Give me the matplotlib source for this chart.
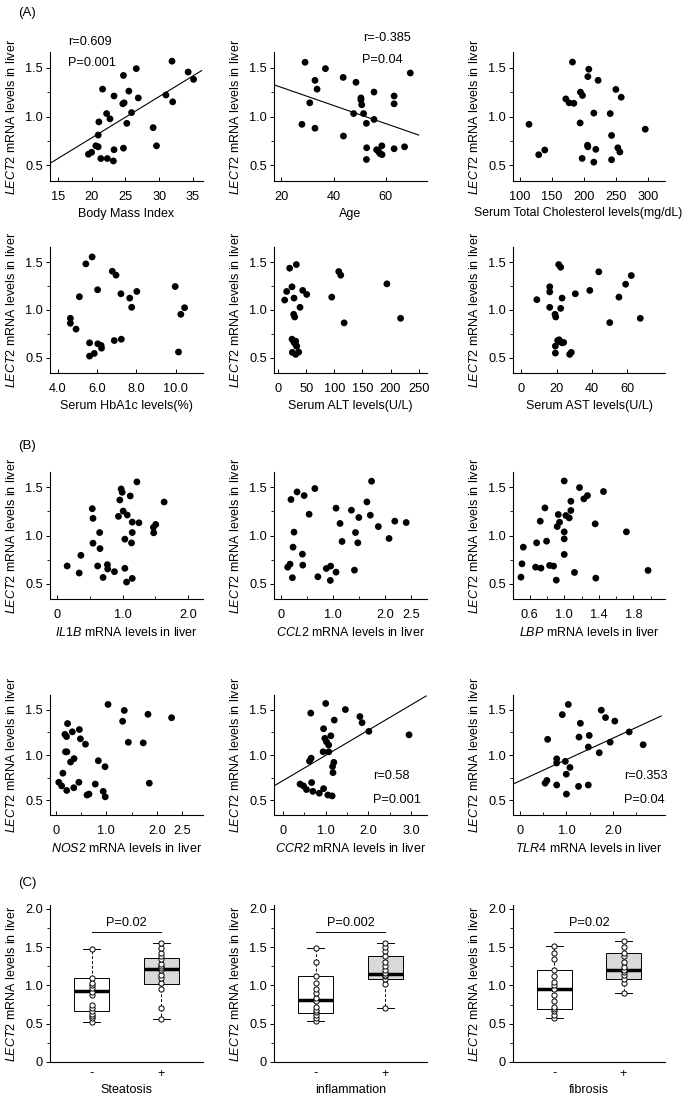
import matplotlib
matplotlib.use('Agg')
import matplotlib.pyplot as plt
from matplotlib.ticker import FixedLocator
import numpy as np

plt.rcParams['font.family'] = ['Liberation Sans', 'DejaVu Sans']
plt.rcParams['mathtext.fontset'] = 'custom'
plt.rcParams['mathtext.it'] = 'Liberation Sans:italic'
plt.rcParams['mathtext.rm'] = 'Liberation Sans'

W, H = 685, 1108
fig = plt.figure(figsize=(W / 100, H / 100), dpi=100)

# ---------------- data (A) ----------------
bmi_x = [19.5, 19.98, 20.6, 20.95, 20.95, 21.05, 21.34, 21.6, 22.2, 22.3, 22.7, 23.2, 23.3, 23.3,
         24.6, 24.8, 24.7, 24.7, 25.2, 25.5, 25.9, 26.6, 26.9, 29.1, 29.6, 31.0, 31.9, 32.0, 34.3, 35.1]
bmi_y = [0.614, 0.634, 0.70, 0.69, 0.81, 0.945, 0.57, 1.28, 1.03, 0.57, 0.976, 0.545, 1.21, 0.66,
         1.13, 1.14, 1.42, 0.676, 0.93, 1.26, 1.04, 1.49, 1.19, 0.886, 0.70, 1.22, 1.566, 1.15, 1.455, 1.38]

age_x = [27.9, 29.1, 30.9, 32.9, 32.9, 33.7, 36.9, 43.7, 43.8, 47.7, 48.6, 50.5, 50.5, 50.8, 51.5,
         52.6, 52.7, 52.6, 55.5, 55.5, 56.5, 57.3, 57.8, 58.5, 58.6, 63.2, 63.2, 63.2, 67.2, 69.4]
age_y = [0.92, 1.555, 1.14, 1.37, 0.88, 1.28, 1.49, 1.40, 0.80, 1.03, 1.35, 1.19, 1.17, 1.12, 1.03,
         0.93, 0.68, 0.56, 1.25, 0.97, 0.66, 0.64, 0.62, 0.70, 0.61, 1.21, 1.13, 0.67, 0.69, 1.445]

chol_x = [182.1, 207.5, 206, 222, 194.5, 197.7, 249.6, 257.9, 171.7, 176.9, 184.2, 215.3, 240.8, 194,
          114.5, 295.3, 242.9, 205.5, 206, 218.4, 252.7, 255.8, 129.6, 139, 197.1, 215.3, 242.9]
chol_y = [1.557, 1.484, 1.408, 1.37, 1.249, 1.215, 1.277, 1.197, 1.18, 1.14, 1.135, 1.035, 1.03, 0.934,
          0.92, 0.87, 0.806, 0.706, 0.69, 0.664, 0.68, 0.637, 0.609, 0.657, 0.571, 0.533, 0.557]

hba_x = [4.63, 4.63, 4.92, 5.09, 5.42, 5.61, 5.61, 5.74, 5.85, 6.02, 6.03, 6.2, 6.22, 6.77, 6.87, 6.96,
         7.21, 7.23, 7.66, 7.76, 8.02, 9.98, 10.15, 10.27, 10.46]
hba_y = [0.913, 0.861, 0.80, 1.139, 1.483, 0.656, 0.517, 1.556, 0.545, 1.212, 0.646, 0.628, 0.60, 1.406,
         0.68, 1.365, 1.17, 0.694, 1.125, 1.028, 1.194, 1.246, 0.56, 0.955, 1.024]

alt_x = [11.3, 14.9, 20.2, 24.4, 24.4, 28, 28, 27.4, 29.2, 32.1, 31.5, 30.9, 32.7, 25, 31, 36.3, 38.7,
         43.5, 50.6, 95.2, 107.7, 111.3, 117.3, 193.5, 217.9]
alt_y = [1.104, 1.194, 1.438, 1.243, 0.694, 0.66, 1.125, 0.955, 0.927, 1.476, 0.632, 0.674, 0.62, 0.556,
         0.535, 0.559, 1.028, 1.205, 1.163, 1.135, 1.403, 1.365, 0.865, 1.274, 0.913]

ast_x = [8.8, 16.1, 16.1, 16.1, 19.1, 19.5, 19.3, 19.3, 21.2, 22.3, 20.6, 21.4, 22.3, 22.1, 23.1, 24,
         23.1, 27.4, 28.3, 30.6, 38.8, 43.9, 50.1, 55.3, 59.1, 62.3, 67.4]
ast_y = [1.108, 1.243, 1.19, 1.028, 0.955, 0.927, 0.622, 0.549, 1.476, 1.448, 0.68, 0.688, 1.017, 0.667,
         1.125, 0.66, 0.656, 0.535, 0.556, 1.17, 1.205, 1.40, 0.868, 1.135, 1.27, 1.361, 0.913]

# ---------------- data (B) ----------------
il1b_x = [0.154, 0.338, 0.364, 0.538, 0.549, 0.549, 0.62, 0.651, 0.656, 0.703, 0.769, 0.774, 0.877,
          0.938, 0.959, 0.979, 0.995, 1.01, 1.036, 1.036, 1.062, 1.072, 1.118, 1.138, 1.149, 1.149,
          1.149, 1.22, 1.251, 1.472, 1.477, 1.508, 1.636]
il1b_y = [0.683, 0.61, 0.794, 1.279, 1.178, 0.92, 0.683, 1.031, 0.864, 0.564, 0.697, 0.652, 0.624,
          1.199, 1.369, 1.484, 1.449, 1.254, 0.962, 0.659, 0.516, 1.213, 1.411, 0.923, 1.139, 1.031,
          0.554, 1.557, 1.132, 1.084, 1.028, 1.115, 1.348]

ccl2_x = [0.123, 0.168, 0.187, 0.213, 0.226, 0.245, 0.303, 0.406, 0.413, 0.439, 0.535, 0.645, 0.703,
          0.865, 0.948, 0.942, 1.052, 1.052, 1.129, 1.168, 1.348, 1.406, 1.426, 1.471, 1.49, 1.645,
          1.71, 1.735, 1.865, 2.071, 2.181, 2.4]
ccl2_y = [0.671, 0.702, 1.374, 0.561, 0.879, 1.035, 1.453, 0.806, 0.692, 1.415, 1.221, 1.488, 0.571,
          0.657, 0.682, 0.533, 0.619, 1.284, 1.125, 0.938, 1.263, 0.64, 1.031, 0.924, 1.187, 1.349,
          1.211, 1.564, 1.093, 0.969, 1.149, 1.135]

lbp_x = [0.5, 0.512, 0.527, 0.669, 0.681, 0.723, 0.731, 0.777, 0.796, 0.831, 0.877, 0.908, 0.919,
         0.931, 0.946, 1.0, 1.0, 1.0, 1.0, 1.019, 1.058, 1.077, 1.077, 1.119, 1.177, 1.227, 1.269,
         1.358, 1.365, 1.454, 1.719, 1.969]
lbp_y = [0.567, 0.706, 0.879, 0.671, 0.924, 1.149, 0.661, 1.287, 0.941, 0.689, 0.682, 0.536, 1.093,
         1.218, 1.138, 1.567, 1.038, 0.965, 0.803, 1.208, 1.183, 1.26, 1.356, 0.616, 1.498, 1.381,
         1.415, 1.121, 0.557, 1.457, 1.038, 0.637]

nos2_x = [0.064, 0.144, 0.196, 0.224, 0.184, 0.216, 0.236, 0.296, 0.33, 0.364, 0.47, 0.49, 0.59,
          0.844, 0.976, 1.036, 1.324, 1.356, 1.436, 1.73, 1.824, 2.29, 0.784, 1.85,
          0.12, 0.22, 0.36, 0.46, 0.62, 0.66, 0.94, 0.98]
nos2_y = [0.70, 0.80, 1.035, 1.035, 1.227, 1.203, 1.346, 0.923, 1.255, 0.96, 1.28, 1.178, 1.119,
          0.937, 0.871, 1.556, 1.371, 1.49, 1.14, 1.133, 1.448, 1.41, 0.68, 0.69,
          0.66, 0.61, 0.64, 0.70, 0.56, 0.57, 0.60, 0.54]

ccr2_x = [0.65, 1.0, 1.46, 1.80, 1.85, 2.01, 2.95, 1.2, 0.95, 0.98, 1.02, 1.07, 1.12, 0.94, 1.07,
          0.62, 0.66, 1.19, 1.16, 1.17, 0.40, 0.48, 0.67, 0.55, 0.70, 0.85, 0.95, 1.05, 1.15]
ccr2_y = [1.461, 1.567, 1.5, 1.423, 1.356, 1.26, 1.222, 1.384, 1.289, 1.183, 1.144, 1.11, 1.211,
          1.035, 1.035, 0.933, 0.965, 0.919, 0.873, 0.806, 0.68, 0.66, 0.697, 0.62, 0.60, 0.58,
          0.63, 0.56, 0.55]

tlr4_x = [0.595, 0.91, 1.04, 0.79, 0.79, 0.975, 1.075, 0.996, 1.27, 1.3, 1.49, 1.47, 1.705, 1.75,
          1.84, 2.04, 1.94, 2.35, 2.65, 0.54, 0.79, 1.26, 1.47, 0.58, 1.0]
tlr4_y = [1.172, 1.444, 1.556, 0.958, 0.912, 0.93, 0.863, 0.789, 1.197, 1.349, 1.215, 1.088, 1.025,
          1.493, 1.412, 1.373, 1.141, 1.254, 1.113, 0.69, 0.67, 0.655, 0.67, 0.72, 0.57]

# regression lines (slope, intercept)
bmi_fit = (0.0422, -0.062)
age_fit = (-0.00928, 1.484)
ccr2_fit = (0.278, 0.718)
tlr4_fit = (0.235, 0.715)

# ---------------- data (C) box summaries: low whisker, Q1, median, Q3, high whisker
steat_neg = [0.52, 0.67, 0.93, 1.10, 1.48]
steat_pos = [0.56, 1.02, 1.22, 1.36, 1.55]
infl_neg = [0.53, 0.64, 0.81, 1.12, 1.49]
infl_pos = [0.70, 1.09, 1.15, 1.38, 1.56]
fib_neg = [0.57, 0.69, 0.95, 1.20, 1.51]
fib_pos = [0.90, 1.09, 1.20, 1.42, 1.58]

steat_neg_pts = [0.52, 0.57, 0.60, 0.63, 0.66, 0.70, 0.75, 0.88, 0.92, 0.97, 1.00, 1.03, 1.10, 1.48]
steat_pos_pts = [0.56, 0.70, 0.95, 1.03, 1.10, 1.13, 1.20, 1.23, 1.25, 1.28, 1.35, 1.38, 1.42, 1.49, 1.55]
infl_neg_pts = [0.53, 0.57, 0.61, 0.65, 0.68, 0.72, 0.80, 0.83, 0.90, 0.95, 1.03, 1.12, 1.30, 1.49]
infl_pos_pts = [0.70, 1.02, 1.09, 1.12, 1.14, 1.16, 1.20, 1.25, 1.30, 1.38, 1.45, 1.50, 1.56]
fib_neg_pts = [0.57, 0.62, 0.66, 0.69, 0.72, 0.80, 0.88, 0.95, 1.00, 1.05, 1.12, 1.20, 1.35, 1.42, 1.51]
fib_pos_pts = [0.90, 1.03, 1.09, 1.13, 1.18, 1.20, 1.24, 1.30, 1.38, 1.42, 1.50, 1.58]

group_labels = ['-', '+']
p_texts = ['P=0.02', 'P=0.002', 'P=0.02']
c_xlabels = ['Steatosis', 'inflammation', 'fibrosis']

YLAB = r'$\it{LECT2}$ mRNA levels in liver'
FS_TICK = 9.2
FS_LAB = 9.0


def rect(l, t, r, b):
    return [l / W, 1 - b / H, (r - l) / W, (b - t) / H]


def style(ax):
    for s in ['top', 'right']:
        ax.spines[s].set_visible(False)
    for s in ['left', 'bottom']:
        ax.spines[s].set_linewidth(0.8)
    ax.tick_params(axis='y', which='major', direction='out', length=3, width=0.7, labelsize=FS_TICK, pad=2)
    ax.tick_params(axis='y', which='minor', direction='out', length=2, width=0.6)
    ax.tick_params(axis='x', which='major', direction='in', length=3, width=0.7, labelsize=FS_TICK, pad=7)
    ax.tick_params(axis='x', which='minor', direction='in', length=2, width=0.6)


cols = [(50, 203), (274, 427), (513, 665)]
rows = [(52, 181), (247, 373), (472, 599), (695, 815)]

panels = [
    dict(x=bmi_x, y=bmi_y, xlim=(13.8, 36.5), xt=[15, 20, 25, 30, 35], xtl=['15', '20', '25', '30', '35'],
         xl='Body Mass Index', fit=bmi_fit, fitx=(13.8, 36.3)),
    dict(x=age_x, y=age_y, xlim=(17.2, 75.8), xt=[20, 40, 60], xtl=['20', '40', '60'], xl='Age',
         fit=age_fit, fitx=(17.2, 72.6)),
    dict(x=chol_x, y=chol_y, xlim=(89.6, 326), xt=[100, 150, 200, 250, 300],
         xtl=['100', '150', '200', '250', '300'], xl='Serum Total Cholesterol levels(mg/dL)', xlx=0.43),
    dict(x=hba_x, y=hba_y, xlim=(3.59, 11.4), xt=[4, 6, 8, 10], xtl=['4.0', '6.0', '8.0', '10.0'],
         xl='Serum HbA1c levels(%)'),
    dict(x=alt_x, y=alt_y, xlim=(-7.7, 265), xt=[0, 50, 100, 150, 200, 250],
         xtl=['0', '50', '100', '150', '200', '250'], xl='Serum ALT levels(U/L)'),
    dict(x=ast_x, y=ast_y, xlim=(-4.7, 81.4), xt=[0, 20, 40, 60], xtl=['0', '20', '40', '60'],
         xl='Serum AST levels(U/L)'),
    dict(x=il1b_x, y=il1b_y, xlim=(-0.108, 2.23), xt=[0, 1, 2], xtl=['0', '1.0', '2.0'],
         xl=r'$\it{IL1B}$ mRNA levels in liver', minor=[0.5, 1.5]),
    dict(x=ccl2_x, y=ccl2_y, xlim=(-0.14, 2.8), xt=[0, 1, 2, 2.5], xtl=['0', '1.0', '2.0', '2.5'],
         xl=r'$\it{CCL2}$ mRNA levels in liver', minor=[0.5, 1.5]),
    dict(x=lbp_x, y=lbp_y, xlim=(0.408, 2.165), xt=[0.6, 1.0, 1.4, 1.8], xtl=['0.6', '1.0', '1.4', '1.8'],
         xl=r'$\it{LBP}$ mRNA levels in liver', minor=[0.8, 1.2, 1.6, 2.0]),
    dict(x=nos2_x, y=nos2_y, xlim=(-0.11, 2.91), xt=[0, 1, 2, 2.5], xtl=['0', '1.0', '2.0', '2.5'],
         xl=r'$\it{NOS2}$ mRNA levels in liver', minor=[0.5, 1.5]),
    dict(x=ccr2_x, y=ccr2_y, xlim=(-0.21, 3.37), xt=[0, 1, 2, 3], xtl=['0', '1.0', '2.0', '3.0'],
         xl=r'$\it{CCR2}$ mRNA levels in liver', fit=ccr2_fit, fitx=(-0.21, 3.35), minor=[0.5, 1.5, 2.5]),
    dict(x=tlr4_x, y=tlr4_y, xlim=(-0.15, 3.12), xt=[0, 1, 2], xtl=['0', '1.0', '2.0'],
         xl=r'$\it{TLR4}$ mRNA levels in liver', fit=tlr4_fit, fitx=(-0.15, 3.04), minor=[0.5, 1.5, 2.5]),
]

for i, p in enumerate(panels):
    r, c = divmod(i, 3)
    t, b = rows[r]
    l, rr = cols[c]
    ax = fig.add_axes(rect(l, t, rr, b))
    style(ax)
    ax.scatter(p['x'], p['y'], s=24, color='black', edgecolors='none', zorder=3)
    if 'fit' in p:
        m, k = p['fit']
        xs = np.array(p['fitx'])
        ax.plot(xs, m * xs + k, color='black', lw=0.8, zorder=2)
    ax.set_xlim(*p['xlim'])
    ax.set_ylim(0.34, 1.66)
    ax.set_yticks([0.5, 1.0, 1.5])
    ax.set_yticklabels(['0.5', '1.0', '1.5'])
    ax.yaxis.set_minor_locator(FixedLocator([0.75, 1.25]))
    ax.set_xticks(p['xt'])
    ax.set_xticklabels(p['xtl'])
    if 'minor' in p:
        ax.xaxis.set_minor_locator(FixedLocator(p['minor']))
    ax.set_xlabel(p['xl'], fontsize=FS_LAB, labelpad=4)
    if 'xlx' in p:
        ax.xaxis.label.set_fontsize(8.8)
        ax.xaxis.set_label_coords(p['xlx'], -0.198)
    ax.set_ylabel(YLAB, fontsize=FS_LAB, labelpad=5)

# annotation texts (A, B)
fig.text(68 / W, 1 - 42 / H, 'r=0.609', fontsize=FS_TICK, va='center')
fig.text(68 / W, 1 - 63 / H, 'P=0.001', fontsize=FS_TICK, va='center')
fig.text(363 / W, 1 - 38 / H, 'r=-0.385', fontsize=FS_TICK, va='center')
fig.text(362 / W, 1 - 60 / H, 'P=0.04', fontsize=FS_TICK, va='center')
fig.text(373 / W, 1 - 776 / H, 'r=0.58', fontsize=FS_TICK, va='center')
fig.text(373 / W, 1 - 800 / H, 'P=0.001', fontsize=FS_TICK, va='center')
fig.text(624 / W, 1 - 776 / H, 'r=0.353', fontsize=FS_TICK, va='center')
fig.text(624 / W, 1 - 800 / H, 'P=0.04', fontsize=FS_TICK, va='center')

fig.text(18 / W, 1 - 13 / H, '(A)', fontsize=9.5, va='center')
fig.text(18 / W, 1 - 446 / H, '(B)', fontsize=9.5, va='center')
fig.text(18 / W, 1 - 883 / H, '(C)', fontsize=9.5, va='center')

# ---------------- (C) boxplots ----------------
c_groups = [
    (steat_neg, steat_pos, steat_neg_pts, steat_pos_pts),
    (infl_neg, infl_pos, infl_neg_pts, infl_pos_pts),
    (fib_neg, fib_pos, fib_neg_pts, fib_pos_pts),
]
c_cols = [(50, 203), (274, 427), (513, 665)]
for j, (neg, pos, npts, ppts) in enumerate(c_groups):
    l, rr = c_cols[j]
    ax = fig.add_axes(rect(l, 905, rr, 1062))
    style(ax)
    stats = []
    for s in (neg, pos):
        stats.append(dict(whislo=s[0], q1=s[1], med=s[2], q3=s[3], whishi=s[4], fliers=[]))
    bp = ax.bxp(stats, positions=[1, 2], widths=0.5, patch_artist=True, showfliers=False,
                boxprops=dict(linewidth=0.7, edgecolor='black'),
                medianprops=dict(color='black', linewidth=2.5),
                whiskerprops=dict(linestyle=(0, (3, 2)), linewidth=0.7, color='black'),
                capprops=dict(linewidth=0.7, color='black'))
    bp['boxes'][0].set_facecolor('white')
    bp['boxes'][1].set_facecolor('#d9d9d9')
    ax.scatter(np.full(len(npts), 1.0), npts, s=14, facecolors='white', edgecolors='black',
               linewidths=0.7, zorder=4)
    ax.scatter(np.full(len(ppts), 2.0), ppts, s=14, facecolors='white', edgecolors='black',
               linewidths=0.7, zorder=4)
    ax.set_xlim(0.4, 2.6)
    ax.set_ylim(0, 2.05)
    ax.set_yticks([0, 0.5, 1.0, 1.5, 2.0])
    ax.set_yticklabels(['0', '0.5', '1.0', '1.5', '2.0'])
    ax.yaxis.set_minor_locator(FixedLocator([0.25, 0.75, 1.25, 1.75]))
    ax.set_xticks([1, 2])
    ax.set_xticklabels(group_labels)
    ax.tick_params(axis='x', length=0, pad=4)
    ax.set_xlabel(c_xlabels[j], fontsize=FS_LAB, labelpad=3)
    ax.set_ylabel(YLAB, fontsize=FS_LAB, labelpad=5)
    ax.plot([1, 2], [1.7, 1.7], color='black', lw=0.7)
    ax.text(1.5, 1.74, p_texts[j], ha='center', va='bottom', fontsize=FS_TICK)

fig.savefig('out.png', dpi=100)
